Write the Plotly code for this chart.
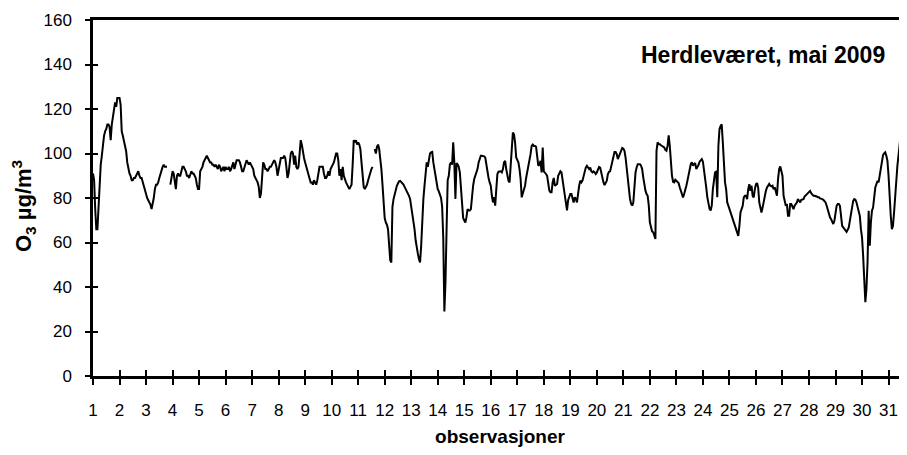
import plotly.graph_objects as go

# hourly O3 (µg/m3), one list per day of May 2009
day01 = [91, 88, 75, 66, 66, 76, 90, 95, 99, 104, 108, 110, 111, 113, 113, 112, 106, 113, 117, 120, 123, 121, 125, 125]
day02 = [125, 122, 110, 108, 106, 103, 101, 96, 93, 91, 90, 88, 88, 89, 89, 90, 91, 92, 90, 89, 89, 87, 85, 83]
day03 = [81, 80, 79, 78, 77, 75, 77, 80, 84, 86, 86, 87, 89, 91, 93, 94, 95, 94, 94, 94, None, None, 86, 89]
day04 = [92, 91, 88, 84, 90, 91, 90, 90, 92, 94, 94, 93, 92, 90, 90, 89, 91, 92, 91, 91, 90, 89, 86, 84]
day05 = [84, 92, 93, 94, 96, 97, 98, 99, 98, 97, 96, 96, 95, 95, 94, 95, 94, 93, 95, 94, 92, 93, 94, 92]
day06 = [94, 93, 93, 94, 92, 93, 95, 96, 93, 96, 97, 97, 97, 96, 93, 92, 92, 94, 95, 97, 96, 95, 96, 95]
day07 = [94, 93, 90, 89, 88, 87, 85, 80, 82, 92, 96, 95, 93, 93, 92, 93, 94, 94, 95, 96, 97, 96, 94, 90]
day08 = [93, 96, 98, 98, 98, 99, 98, 94, 89, 91, 96, 100, 101, 100, 95, 99, 94, 93, 94, 99, 106, 104, 100, 98]
day09 = [96, 94, 92, 90, 88, 87, 87, 86, 88, 87, 86, 88, 91, 94, 94, 94, 94, 91, 89, 89, 90, 92, 90, 93]
day10 = [94, 95, 96, 98, 100, 100, 97, 90, 93, 88, 94, 90, 88, 87, 86, 85, 84, 85, 86, 95, 106, 105, 106, 104]
day11 = [105, 104, 102, 96, 90, 85, 84, 85, 86, 88, 90, 91, 93, 94, None, 102, 100, 103, 104, 102, 98, 93, 86, 77]
day12 = [71, 69, 68, 66, 60, 52, 51, 76, 79.5, 82, 84.5, 85.5, 86.5, 87.5, 87.7, 87.2, 86.5, 86, 85, 84, 83.5, 82, 81, 79.5]
day13 = [76.5, 73.6, 70.6, 66, 61, 57, 55, 52.6, 51, 58.5, 70.6, 79.5, 85.4, 90, 96, 94, 97.5, 100, 100.5, 100.7, 96, 93, 90, 85.5]
day14 = [84, 83, 81, 80, 76, 62, 29, 42, 66, 88, 90, 95, 96, 95, 105, 96, 79.6, 95.7, 95, 94, 91.5, 83, 76, 71]
day15 = [69.9, 69, 71.4, 75, 74.4, 74.4, 75, 81, 85.5, 88.5, 90, 90.8, 93, 96, 97.5, 99, 99, 99, 98.7, 98.2, 95, 90, 89, 87]
day16 = [85.5, 81, 78, 80.3, 76.6, 84, 90.8, 91.8, 92, 92, 91.5, 93, 96, 96.7, 93, 90, 87.8, 87, 94.5, 106.4, 109.4, 108.6, 105, 98.2]
day17 = [96.7, 96, 93, 88.5, 80.3, 81.8, 83, 85.5, 89, 91.5, 95, 97.5, 99.7, 103.4, 104, 103.4, 103.4, 103, 96.7, 94.5, 95, 96.7, 91.5, 102.7]
day18 = [92, 91.5, 90.8, 90, 87, 83.3, 82.6, 82.6, 87, 89, 85.5, 85.8, 86.3, 90, 91.5, 92, 91.5, 87.8, 84.8, 81.8, 76.6, 74.4, 79, 81]
day19 = [81.8, 81.8, 80.3, 78, 80.3, 79.6, 78, 83.3, 85.5, 87.8, 87, 87.8, 90, 92, 93.7, 94.5, 93.7, 93, 93.7, 92, 91.5, 92, 91.5, 90.8]
day20 = [91.5, 93, 94, 93.7, 90.8, 88.5, 87, 85.8, 86.7, 87.8, 90.8, 91.8, 92, 94.5, 96.7, 99, 100.7, 100.7, 99.7, 97.5, 99, 100.5, 102, 102.5]
day21 = [102.2, 101.2, 98.2, 93, 87, 83.3, 79.6, 77.4, 76.6, 78, 85.5, 91.5, 93.7, 95.2, 95.2, 95.2, 94.5, 93, 89.3, 84.8, 83.3, 81.8, 81, 76.6]
day22 = [69, 67, 65, 64.6, 62.5, 61.6, 101.2, 105, 104.2, 104.2, 103.7, 103.4, 103, 102.7, 101.6, 101.2, 103.4, 108.2, 103.4, 96, 90, 87.3, 87, 88.2]
day23 = [87.8, 87.3, 86.7, 84.8, 83.3, 82.3, 80.3, 81.8, 83.3, 85.5, 87.8, 90, 93.7, 95.2, 96, 94.5, 95.2, 95.7, 93, 93.7, 94.8, 96.3, 97.2, 97.5]
day24 = [96.3, 93, 90, 84.8, 80.3, 76.6, 75.1, 74.4, 76.6, 84, 89.3, 91.5, 91.8, 80.3, 103.4, 110.9, 112.4, 113.1, 105, 93, 87, 84, 78, 76.6]
day25 = [75.1, 73.6, 72, 70, 68.5, 67.5, 66, 65, 63, 67.5, 73.5, 75, 76.5, 80.3, 81, 81, 79.5, 84, 86.2, 83.2, 85.5, 81, 80.3, 84]
day26 = [86.2, 86.7, 84.7, 78, 75, 73.5, 75.7, 78.7, 81, 83.2, 84.7, 85.5, 86.3, 85.5, 85.2, 85.5, 84, 84.8, 82.6, 81, 88.5, 93, 94.2, 92.3]
day27 = [90, 81, 78.8, 76.5, 77.3, 72, 72, 77.3, 77.3, 75.7, 75, 76.5, 77.3, 78, 79.5, 78.7, 78, 79.2, 79.5, 79.5, 80.7, 81.3, 81.7, 82.5]
day28 = [82.8, 83.2, 82.2, 81.3, 81, 81, 81, 80.7, 80.3, 80.3, 79.8, 79.8, 79.5, 79.2, 78.7, 78, 76.5, 74.3, 72.8, 71.3, 70.5, 69, 68.3, 69.8]
day29 = [72.8, 76.5, 77.3, 77.3, 76.5, 69.8, 67.5, 66.8, 66, 65.3, 64.8, 65.7, 66.8, 69.8, 73.5, 76.5, 78.7, 79.5, 79.2, 78, 75.7, 73.5, 72, 66]
day30 = [62.3, 54.1, 40.7, 33.2, 39.2, 51.2, 74.3, 58.6, 69, 74.3, 75.7, 81, 84.7, 86.2, 87.7, 87, 90, 93.7, 96.7, 99.3, 100, 100.5, 99, 96.7]
day31 = [90, 78, 72, 66, 67.5, 73.5, 81, 90, 94.5, 99, 105.7, 108.6, 110.1, 110.9, 111.6, 113.1, 118, 130]

days = [day01, day02, day03, day04, day05, day06, day07, day08, day09, day10,
        day11, day12, day13, day14, day15, day16, day17, day18, day19, day20,
        day21, day22, day23, day24, day25, day26, day27, day28, day29, day30, day31]
day_labels = [str(d) for d in range(1, 32)]

o3 = [v for d in days for v in d]
obs = list(range(len(o3)))
day_ticks = [24 * i for i in range(31)]

FONT = "Arial, 'Liberation Sans', sans-serif"
x_range = [0, 736.7]
y_range = [0, 160]

fig = go.Figure()
fig.add_trace(go.Scatter(x=obs, y=o3, mode="lines", line=dict(color="black", width=2),
                         connectgaps=False, hoverinfo="skip", showlegend=False))
# same series on overlay axes, only used to get ticks that cross the axis lines
fig.add_trace(go.Scatter(x=obs, y=o3, mode="lines", line=dict(color="rgba(0,0,0,0)", width=0),
                         xaxis="x2", yaxis="y2", hoverinfo="skip", showlegend=False))

# page body has an 8px margin: keep the figure inside the window so no scrollbar shows
fig.update_layout(
    width=899, height=439,
    margin=dict(l=85, r=0, t=12, b=71),
    paper_bgcolor="white", plot_bgcolor="white",
    font=dict(family=FONT, color="black", size=17),
    xaxis=dict(
        range=x_range, tickmode="array", tickvals=day_ticks, ticktext=day_labels,
        ticks="outside", ticklen=6, tickwidth=1.5, tickcolor="black",
        showline=True, linecolor="black", linewidth=2.5, mirror=True,
        showgrid=False, zeroline=False, ticklabelstandoff=11,
        title=dict(text="<b>observasjoner</b>", font=dict(size=19), standoff=15),
    ),
    yaxis=dict(
        range=y_range, dtick=20,
        ticks="outside", ticklen=5, tickwidth=1.5, tickcolor="black",
        showline=True, linecolor="black", linewidth=2.5,
        showgrid=False, zeroline=False, ticklabelstandoff=10,
    ),
    xaxis2=dict(
        overlaying="x", anchor="y", side="bottom", range=x_range,
        tickmode="array", tickvals=day_ticks, showticklabels=False,
        ticks="inside", ticklen=6, tickwidth=1.5, tickcolor="black",
        showline=False, showgrid=False, zeroline=False,
    ),
    yaxis2=dict(
        overlaying="y", anchor="x", side="left", range=y_range, dtick=20,
        showticklabels=False, ticks="inside", ticklen=5, tickwidth=1.5, tickcolor="black",
        showline=False, showgrid=False, zeroline=False,
    ),
    annotations=[
        dict(text="<b>Herdleværet, mai 2009</b>", xref="paper", yref="paper",
             x=0.975, y=0.902, xanchor="right", yanchor="middle", showarrow=False,
             font=dict(size=23)),
        dict(text="<b>O<sub>3</sub> µg/m<sup>3</sup></b>", xref="paper", yref="paper",
             x=0, y=0.4775, xshift=-70, xanchor="center", yanchor="middle",
             textangle=-90, showarrow=False, font=dict(size=22)),
    ],
)

fig.write_html("out.html")
